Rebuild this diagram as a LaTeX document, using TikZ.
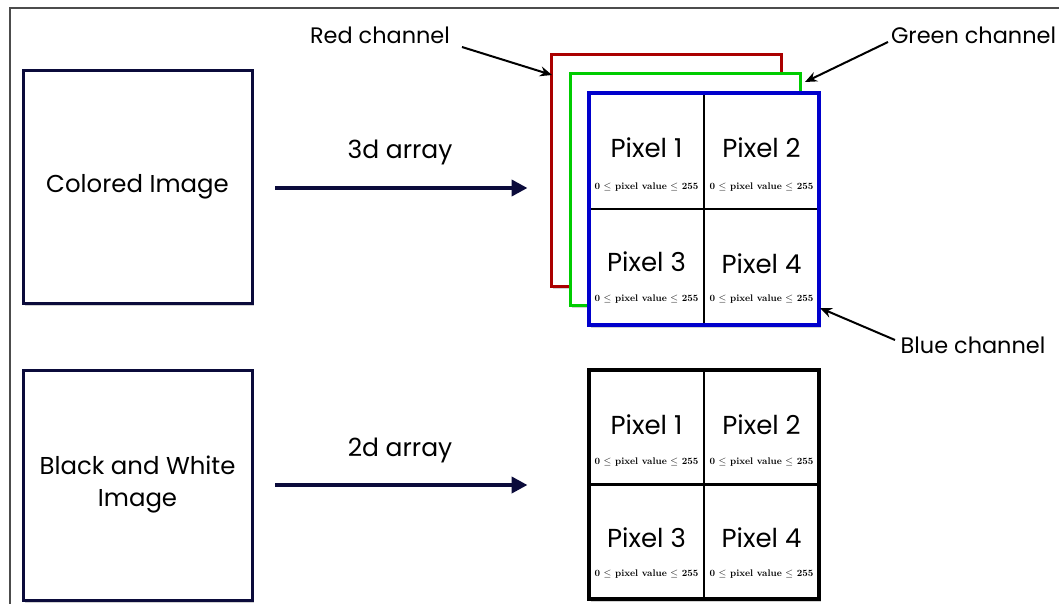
\documentclass[tikz,border=0pt]{standalone}
\usepackage[no-math]{fontspec}
\setmainfont{Poppins}
\newfontfamily\lmr{Latin Modern Roman}
\usetikzlibrary{arrows.meta,shadows}
\definecolor{navy}{HTML}{0B0B3B}
\definecolor{chred}{HTML}{AA0000}
\definecolor{chgreen}{HTML}{00CC00}
\definecolor{chblue}{HTML}{0000CC}
\begin{document}
\begin{tikzpicture}[x=1pt,y=-1pt,
  imgbox/.style={draw=navy,line width=3pt,fill=white,inner sep=0pt,outer sep=0pt,
    align=center,font=\fontsize{24.4}{32}\selectfont,
    drop shadow={opacity=0.35,shadow xshift=1.5pt,shadow yshift=-2.5pt}},
  chan/.style={line width=3pt,fill=white,inner sep=0pt,outer sep=0pt,
    minimum width=230pt,minimum height=232pt,
    drop shadow={opacity=0.35,shadow xshift=1.5pt,shadow yshift=-2.5pt}},
  bigarrow/.style={draw=navy,line width=4pt,-{Triangle[length=16pt,width=16pt]},
    shorten <=23pt,shorten >=24pt},
  arrlabel/.style={font=\fontsize{25}{30}\selectfont,inner sep=0pt},
  note/.style={font=\fontsize{22.4}{26}\selectfont,inner sep=0pt},
  notearrow/.style={draw=black,line width=2pt,-{Stealth[length=12pt,width=10pt]}},
  pix/.style={font=\fontsize{26}{30}\selectfont,inner sep=0pt},
  val/.style={font=\lmr\fontsize{9.6}{11}\selectfont\bfseries,inner sep=0pt},
  gridline/.style={draw=black,line width=2.5pt},
  frame/.style={draw=black!70,line width=1.5pt}
]
\useasboundingbox (0,0) rectangle (1059,604);
\fill[white] (0,0) rectangle (1059,604);
% outer frame
\coordinate (f0) at (10,604);
\coordinate (f1) at (10,8);
\coordinate (f2) at (1059,8);
\draw[frame] (f0) -- (f1) -- (f2);

% left boxes
\node[imgbox,minimum width=229pt,minimum height=232pt] (ci) at (137.5,187) {Colored Image};
\node[imgbox,minimum width=229pt,minimum height=230pt] (bw) at (137.5,485) {Black and White\\Image};

% channel stack
\node[chan,draw=chred] (red) at (666.5,170.5) {};
\node[chan,draw=chgreen] (green) at (685,189.5) {};
\node[chan,fill=white,draw=none] (blue) at (704,209) {};
\draw[gridline] (blue.north) -- (blue.south);
\draw[gridline] (blue.west) -- (blue.east);
\draw[draw=chblue,line width=3.5pt] (blue.north west) rectangle (blue.south east);

\coordinate (c1) at (646.5,151);
\coordinate (c2) at (761.5,151);
\coordinate (c3) at (646.5,267);
\coordinate (c4) at (761.5,267);
\node[pix] (p1) at ([yshift=3pt]c1) {Pixel 1};
\node[pix] (p2) at ([yshift=3pt]c2) {Pixel 2};
\node[pix] (p3) at ([yshift=5pt]c3) {Pixel 3};
\node[pix] (p4) at ([yshift=3pt]c4) {Pixel 4};
\node[val] (v1) at ([yshift=-36pt]c1) {0 $\le$ pixel value $\le$ 255};
\node[val] (v2) at ([yshift=-36pt]c2) {0 $\le$ pixel value $\le$ 255};
\node[val] (v3) at ([yshift=-32pt]c3) {0 $\le$ pixel value $\le$ 255};
\node[val] (v4) at ([yshift=-32pt]c4) {0 $\le$ pixel value $\le$ 255};

% black and white grid
\node[chan,draw=none,minimum height=229pt] (bg) at (704,484.5) {};
\draw[gridline] (bg.north) -- (bg.south);
\draw[gridline] (bg.west) -- (bg.east);
\draw[draw=black,line width=4pt] (bg.north west) rectangle (bg.south east);
\coordinate (d1) at (646.5,427);
\coordinate (d2) at (761.5,427);
\coordinate (d3) at (646.5,541.5);
\coordinate (d4) at (761.5,541.5);
\node[pix] (q1) at ([yshift=2pt]d1) {Pixel 1};
\node[pix] (q2) at ([yshift=2pt]d2) {Pixel 2};
\node[pix] (q3) at ([yshift=4pt]d3) {Pixel 3};
\node[pix] (q4) at ([yshift=4pt]d4) {Pixel 4};
\node[val] (w1) at ([yshift=-35pt]d1) {0 $\le$ pixel value $\le$ 255};
\node[val] (w2) at ([yshift=-35pt]d2) {0 $\le$ pixel value $\le$ 255};
\node[val] (w3) at ([yshift=-33pt]d3) {0 $\le$ pixel value $\le$ 255};
\node[val] (w4) at ([yshift=-33pt]d4) {0 $\le$ pixel value $\le$ 255};

% big arrows
\draw[bigarrow] (ci.east |- 0,188) -- (red.west |- 0,188);
\node[arrlabel] (l3) at (400,152) {3d array};
\draw[bigarrow] (bw.east |- 0,485) -- (red.west |- 0,485);
\node[arrlabel] (l2) at (400,450) {2d array};

% channel notes
\node[note] (rn) at (380,35) {Red channel};
\node[note] (gn) at (973.5,35) {Green channel};
\node[note] (bn) at (973,345) {Blue channel};
\coordinate (rt) at (552,75);
\coordinate (gt) at (805,82);
\coordinate (bt) at (820,308);
\draw[notearrow] (462,47) -- (rt);
\draw[notearrow] (888,42) -- (gt);
\draw[notearrow] (895,340) -- (bt);
\end{tikzpicture}
\end{document}
